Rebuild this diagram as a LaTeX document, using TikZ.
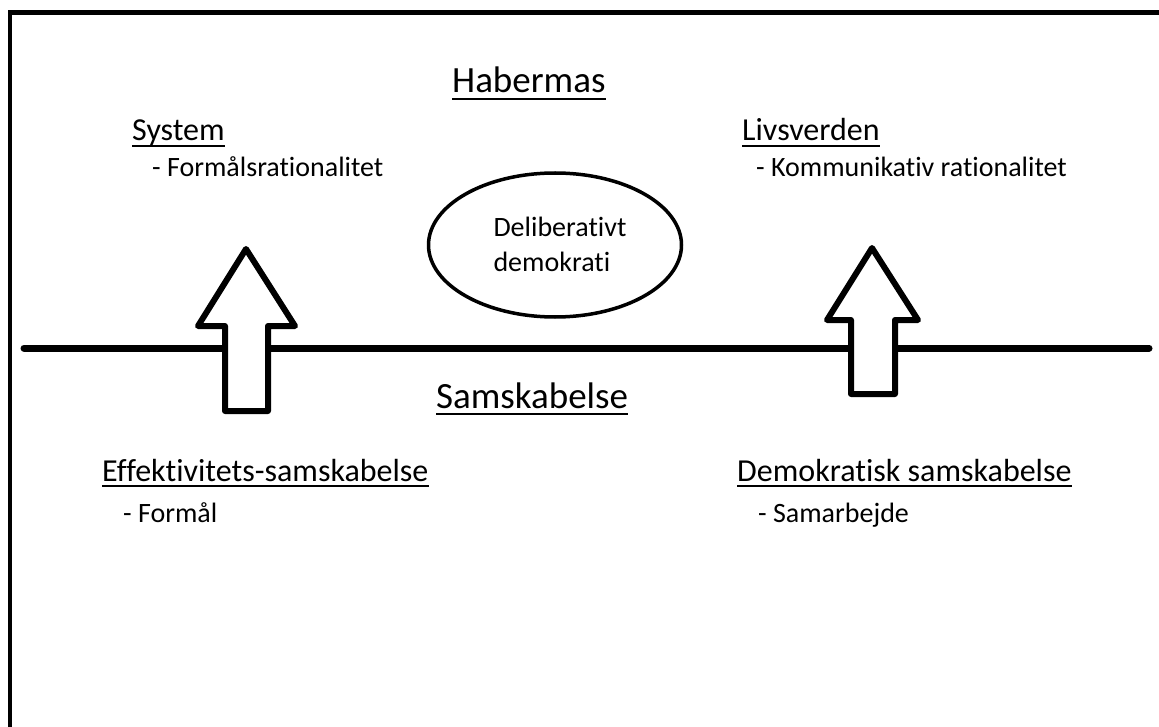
\documentclass[tikz,border=0pt]{standalone}
\usepackage{fontspec}
\setmainfont{Carlito}[Ligatures={NoCommon}]
\usetikzlibrary{shapes.geometric}
\begin{document}
\begin{tikzpicture}[x=1pt,y=-1pt,
  head/.style={inner sep=0pt, anchor=base west, font=\fontsize{37}{44}\selectfont},
  sub/.style={inner sep=0pt, anchor=base west, font=\fontsize{32}{39}\selectfont},
  item/.style={inner sep=0pt, anchor=base west, font=\fontsize{28}{34}\selectfont},
  uline/.style={line width=2.2pt},
  blockarrow/.style={draw, line width=6pt, fill=white, line join=round},
  divider/.style={line width=7pt, line cap=round},
]
\useasboundingbox (0,0) rectangle (1159,727);
\begin{scope}
  \clip (0,0) rectangle (1159,727);
  \draw[line width=4.5pt] (10,760) -- (10,12.5) -- (1180,12.5);
\end{scope}

% divider line
\coordinate (lineL) at (24,348);
\coordinate (lineR) at (1149,348);
\draw[divider] (lineL) -- (lineR);

% block arrows
\draw[blockarrow] (225,411) -- (225,326) -- (198,326) -- (246,249) -- (295,326) -- (268,326) -- (268,411) -- cycle;
\draw[blockarrow] (851,394) -- (851,320) -- (827,320) -- (872,248) -- (918,320) -- (895,320) -- (895,394) -- cycle;

% ellipse
\node[draw, ellipse, line width=3.5pt, minimum width=253pt, minimum height=144pt, inner sep=0pt] (ell) at (555,245) {};
\node[inner sep=0pt, align=left, font=\fontsize{28}{35}\selectfont] (delib) at (560,244) {Deliberativt\\demokrati};

% headings
\node[head] (hab) at (452,93) {Habermas};
\draw[uline] ([yshift=-6pt]hab.base west) -- ([yshift=-6pt]hab.base east);
\node[head] (sam) at (436,408) {Samskabelse};
\draw[uline] ([yshift=-6pt]sam.base west) -- ([yshift=-6pt]sam.base east);

\node[sub] (sys) at (132,141) {System};
\draw[uline] ([yshift=-5pt]sys.base west) -- ([yshift=-5pt]sys.base east);
\node[item] (sysi) at (152,177) {- Formålsrationalitet};

\node[sub] (liv) at (742,141) {Livsverden};
\draw[uline] ([yshift=-5pt]liv.base west) -- ([yshift=-5pt]liv.base east);
\node[item] (livi) at (756,177) {- Kommunikativ rationalitet};

\node[sub] (eff) at (102,481) {Effektivitets-samskabelse};
\draw[uline] ([yshift=-5pt]eff.base west) -- ([yshift=-5pt]eff.base east);
\node[item] (effi) at (123,522) {- Formål};

\node[sub] (dem) at (737,481) {Demokratisk samskabelse};
\draw[uline] ([yshift=-5pt]dem.base west) -- ([yshift=-5pt]dem.base east);
\node[item] (demi) at (758,522) {- Samarbejde};
\end{tikzpicture}
\end{document}
